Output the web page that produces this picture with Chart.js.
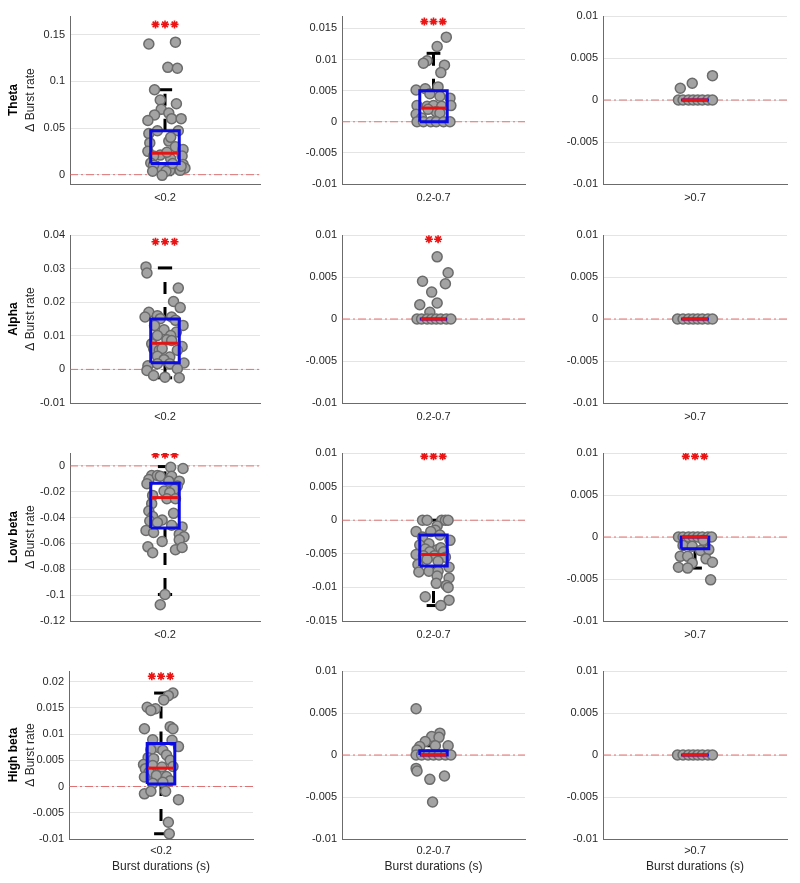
<!DOCTYPE html>
<html><head><meta charset="utf-8">
<script src="https://cdn.jsdelivr.net/npm/chart.js@4.4.1/dist/chart.umd.min.js"></script>
<style>
html,body{margin:0;padding:0;background:#fff;}
#wrap{position:relative;width:800px;height:883px;overflow:hidden;background:#fff;}
#wrap canvas{position:absolute;}
</style></head><body><div id="wrap"></div>
<script>
// ---------- DATA ----------
const bands = ['Theta', 'Alpha', 'Low beta', 'High beta'];
const durations = ['<0.2', '0.2-0.7', '>0.7'];
const yAxisLabel = 'Δ Burst rate';
const xAxisTitle = 'Burst durations (s)';

// y limits and ticks
const thetaShortLim = [-0.01, 0.17];
const thetaShortTicks = [0, 0.05, 0.1, 0.15];
const thetaMidLim = [-0.01, 0.017];
const thetaMidTicks = [-0.01, -0.005, 0, 0.005, 0.01, 0.015];
const smallLim = [-0.01, 0.01];
const smallTicks = [-0.01, -0.005, 0, 0.005, 0.01];
const alphaShortLim = [-0.01, 0.04];
const alphaShortTicks = [-0.01, 0, 0.01, 0.02, 0.03, 0.04];
const lowBetaShortLim = [-0.12, 0.01];
const lowBetaShortTicks = [-0.12, -0.1, -0.08, -0.06, -0.04, -0.02, 0];
const lowBetaMidLim = [-0.015, 0.01];
const lowBetaMidTicks = [-0.015, -0.01, -0.005, 0, 0.005, 0.01];
const highBetaShortLim = [-0.01, 0.022];
const highBetaShortTicks = [-0.01, -0.005, 0, 0.005, 0.01, 0.015, 0.02];

// points: values (y) and jitter (x, category centred at 0)
const thetaShortY = [0.140,0.142,0.115,0.114,0.091,0.080,0.076,0.070,0.066,0.064,0.058,0.060,0.060,0.044,0.047,0.047,0.034,0.036,0.040,0.030,0.027,0.025,0.021,0.020,0.020,0.017,0.0125,0.009,0.011,0.007,0.007,0.0046,0.0046,0.006,0.010,0.0036,-0.0007,0.0036,0.009,0.012,0.024];
const thetaShortX = [-0.17,0.11,0.03,0.13,-0.11,-0.05,0.12,-0.04,0.04,-0.11,-0.18,0.07,0.17,-0.17,-0.08,0.14,-0.16,0.04,0.06,0.11,0.19,-0.18,-0.05,-0.12,0.18,0.06,-0.15,-0.09,0.19,0.21,0.12,0.16,0.05,-0.04,-0.12,0.01,-0.03,-0.13,0.17,0.08,0.02];
const thetaMidY = [0.0136,0.0121,0.0098,0.0094,0.0091,0.0079,0.0056,0.0051,0.0053,0.0045,0.0041,0.0038,0.0026,0.0025,0.0026,0.0025,0.0026,0.0016,0.0014,0.0012,0.0020,0.0006,0,0,0,0,0,0];
const thetaMidX = [0.14,0.04,-0.07,-0.11,0.12,0.08,0.05,-0.19,-0.09,-0.04,0.07,0.18,-0.18,-0.07,0,0.09,0.19,0.03,0.07,-0.19,-0.06,-0.13,-0.18,-0.11,-0.03,0.03,0.11,0.18];
const thetaLongY = [0.0014,0.002,0.0029,0,0,0,0,0,0,0,0];
const thetaLongX = [-0.16,-0.03,0.19,-0.18,-0.13,-0.07,-0.02,0.03,0.08,0.14,0.19];

const alphaShortY = [0.0305,0.0287,0.0242,0.0202,0.0184,0.0170,0.0160,0.0156,0.0151,0.0156,0.0146,0.0131,0.0131,0.0118,0.0111,0.0101,0.0101,0.0088,0.0086,0.0076,0.0068,0.0062,0.0057,0.0062,0.0057,0.0039,0.0037,0.0029,0.0019,0.0011,0.0017,0.0017,-0.0003,0.0002,-0.0018,-0.0025,-0.0023];
const alphaShortX = [-0.2,-0.19,0.14,0.09,0.16,-0.17,-0.08,-0.21,-0.05,0.07,0.11,-0.11,0.19,-0.01,0.12,-0.08,0.06,0.02,0.07,-0.14,0.18,-0.12,-0.06,-0.03,0.13,-0.08,0.05,-0.01,0.2,-0.18,-0.08,0.05,-0.19,0.13,-0.12,0.15,0];
const alphaMidY = [0.0074,0.0055,0.0045,0.0042,0.0032,0.0019,0.0017,0.0008,0,0,0,0,0,0,0,0];
const alphaMidX = [0.04,0.16,-0.12,0.13,-0.02,0.04,-0.15,-0.04,-0.18,-0.13,-0.07,-0.02,0.03,0.08,0.14,0.19];
const alphaLongY = [0,0,0,0,0,0,0,0];
const alphaLongX = [-0.19,-0.13,-0.07,-0.02,0.03,0.08,0.14,0.19];

const lowBetaShortY = [-0.001,-0.002,-0.0074,-0.0105,-0.0074,-0.008,-0.008,-0.0118,-0.0138,-0.0118,-0.0156,-0.018,-0.0195,-0.0208,-0.0228,-0.0254,-0.0254,-0.0292,-0.0349,-0.0367,-0.0392,-0.0418,-0.0426,-0.0438,-0.0459,-0.0472,-0.050,-0.0515,-0.0528,-0.0549,-0.0585,-0.0572,-0.0626,-0.0672,-0.0649,-0.0631,-0.1074,-0.0995];
const lowBetaShortX = [0.06,0.19,-0.14,-0.17,-0.08,-0.05,0.07,0.15,-0.19,0.04,0.13,0.1,-0.01,0.05,-0.13,0.02,0.11,-0.14,-0.17,0.09,-0.13,-0.03,-0.16,-0.08,0.07,0.18,-0.2,-0.12,0.15,0.2,-0.03,0.15,-0.18,-0.13,0.11,0.18,-0.05,0];
const lowBetaMidY = [0,0,0,0,0,-0.00085,-0.0015,-0.0017,-0.0017,-0.0025,-0.0022,-0.003,-0.0035,-0.0037,-0.0043,-0.0044,-0.0041,-0.0047,-0.0047,-0.0051,-0.0053,-0.0053,-0.0055,-0.0058,-0.0066,-0.0061,-0.007,-0.0077,-0.0076,-0.0076,-0.0083,-0.0086,-0.0094,-0.0097,-0.010,-0.0114,-0.0119,-0.0127];
const lowBetaMidX = [-0.12,-0.07,0.09,0.13,0.16,0.04,0.02,-0.19,-0.03,-0.12,0.07,0.18,-0.05,-0.15,-0.09,0.04,0.08,0.11,-0.04,-0.19,-0.11,0.01,0.13,-0.07,-0.17,0.05,0.17,-0.16,-0.05,0.05,0.04,0.17,0.03,0.14,0.16,-0.09,0.17,0.08];
const lowBetaLongY = [0,0,0,0,0,0,0,0,-0.0004,-0.001,-0.0011,-0.0016,-0.0015,-0.0023,-0.0023,-0.0026,-0.0031,-0.003,-0.0036,-0.0037,-0.0051];
const lowBetaLongX = [-0.18,-0.13,-0.07,-0.02,0.03,0.08,0.14,0.18,0.09,-0.13,-0.03,0.06,0.15,-0.16,-0.08,0.12,-0.03,0.19,-0.18,-0.08,0.17];

const highBetaShortY = [0.0178,0.0173,0.0165,0.0151,0.0148,0.0145,0.011,0.0114,0.011,0.0089,0.0088,0.0074,0.0076,0.007,0.0069,0.006,0.0055,0.0053,0.005,0.0042,0.0034,0.004,0.0037,0.0038,0.0027,0.0021,0.0018,0.0019,0.0011,0.0008,0.0006,-0.0014,-0.0009,-0.0009,-0.0025,-0.0068,-0.009];
const highBetaShortX = [0.13,0.08,0.03,-0.15,-0.06,-0.11,-0.18,0.1,0.13,-0.09,0.12,-0.02,0.19,-0.11,0.02,0.06,-0.14,-0.08,0.1,-0.19,-0.17,-0.09,0.01,0.13,-0.13,-0.05,-0.18,0.06,0.1,0.02,-0.09,-0.18,-0.11,0.05,0.19,0.08,0.09];
const highBetaMidY = [0.0055,0.0026,0.0022,0.0021,0.0016,0.001,0.0011,0.0011,0.0006,0,0,0,0,0,0,0,-0.0016,-0.0019,-0.0025,-0.0029,-0.0056];
const highBetaMidX = [-0.19,0.07,-0.02,0.06,-0.09,-0.15,0.16,0.02,-0.18,-0.19,-0.13,-0.06,0,0.06,0.13,0.19,-0.19,-0.18,0.12,-0.04,-0.01];
const highBetaLongY = [0,0,0,0,0,0,0,0];
const highBetaLongX = [-0.19,-0.13,-0.07,-0.02,0.03,0.08,0.14,0.19];

// box statistics: [lower whisker, Q1, median, Q3, upper whisker]
const thetaShortBox = [0, 0.012, 0.023, 0.047, 0.091];
const thetaMidBox = [0, 0, 0.0022, 0.005, 0.011];
const thetaLongBox = [0, 0, 0, 0, 0];
const alphaShortBox = [-0.0025, 0.002, 0.0078, 0.015, 0.0302];
const alphaMidBox = [0, 0, 0, 0, 0];
const alphaLongBox = [0, 0, 0, 0, 0];
const lowBetaShortBox = [-0.0995, -0.048, -0.0245, -0.0135, -0.0005];
const lowBetaMidBox = [-0.0127, -0.0068, -0.0051, -0.0022, 0];
const lowBetaLongBox = [-0.0037, -0.0014, 0, 0, 0];
const highBetaShortBox = [-0.009, 0.0005, 0.0035, 0.0082, 0.0178];
const highBetaMidBox = [0, 0, 0, 0.0005, 0.0011];
const highBetaLongBox = [0, 0, 0, 0, 0];

// significance stars: [y value, number of stars]
const thetaShortSig = [0.161, 3];
const thetaMidSig = [0.0161, 3];
const alphaShortSig = [0.038, 3];
const alphaMidSig = [0.0095, 2];
const lowBetaShortSig = [0.0087, 3];
const lowBetaMidSig = [0.0095, 3];
const lowBetaLongSig = [0.0096, 3];
const highBetaShortSig = [0.021, 3];
const noSig = [0, 0];

// ---------- LAYOUT / STYLE ----------
const FONT = '"Liberation Sans", Arial, Helvetica, sans-serif';
const panels = [
  {r:0,c:0,y:thetaShortY,x:thetaShortX,box:thetaShortBox,sig:thetaShortSig,lim:thetaShortLim,ticks:thetaShortTicks},
  {r:0,c:1,y:thetaMidY,x:thetaMidX,box:thetaMidBox,sig:thetaMidSig,lim:thetaMidLim,ticks:thetaMidTicks},
  {r:0,c:2,y:thetaLongY,x:thetaLongX,box:thetaLongBox,sig:noSig,lim:smallLim,ticks:smallTicks},
  {r:1,c:0,y:alphaShortY,x:alphaShortX,box:alphaShortBox,sig:alphaShortSig,lim:alphaShortLim,ticks:alphaShortTicks},
  {r:1,c:1,y:alphaMidY,x:alphaMidX,box:alphaMidBox,sig:alphaMidSig,lim:smallLim,ticks:smallTicks},
  {r:1,c:2,y:alphaLongY,x:alphaLongX,box:alphaLongBox,sig:noSig,lim:smallLim,ticks:smallTicks},
  {r:2,c:0,y:lowBetaShortY,x:lowBetaShortX,box:lowBetaShortBox,sig:lowBetaShortSig,lim:lowBetaShortLim,ticks:lowBetaShortTicks},
  {r:2,c:1,y:lowBetaMidY,x:lowBetaMidX,box:lowBetaMidBox,sig:lowBetaMidSig,lim:lowBetaMidLim,ticks:lowBetaMidTicks},
  {r:2,c:2,y:lowBetaLongY,x:lowBetaLongX,box:lowBetaLongBox,sig:lowBetaLongSig,lim:smallLim,ticks:smallTicks},
  {r:3,c:0,y:highBetaShortY,x:highBetaShortX,box:highBetaShortBox,sig:highBetaShortSig,lim:highBetaShortLim,ticks:highBetaShortTicks},
  {r:3,c:1,y:highBetaMidY,x:highBetaMidX,box:highBetaMidBox,sig:noSig,lim:smallLim,ticks:smallTicks},
  {r:3,c:2,y:highBetaLongY,x:highBetaLongX,box:highBetaLongBox,sig:noSig,lim:smallLim,ticks:smallTicks}
];
const colGeom = [{L:70,R:260},{L:342,R:525},{L:603,R:787}];
const rowGeom = [{T:16,B:184},{T:235,B:403},{T:453,B:621},{T:671,B:839}];
const BOX_HALF = 0.15, MED_HALF = 0.14, CAP_HALF = 0.075, STAR_GAP = 0.1;

const rowLabelPlugin = {
  id: 'rowLabel',
  afterDraw(chart, args, opts) {
    if (!opts || !opts.text) return;
    const ctx = chart.ctx, ca = chart.chartArea;
    const cy = (ca.top + ca.bottom) / 2;
    ctx.save();
    ctx.translate(opts.x1, cy); ctx.rotate(-Math.PI / 2);
    ctx.textAlign = 'center'; ctx.textBaseline = 'middle';
    ctx.fillStyle = '#000'; ctx.font = 'bold 12px ' + FONT;
    ctx.fillText(opts.text, 0, 0);
    ctx.restore();
    ctx.save();
    ctx.translate(opts.x2, cy); ctx.rotate(-Math.PI / 2);
    ctx.textAlign = 'center'; ctx.textBaseline = 'middle';
    ctx.fillStyle = '#262626'; ctx.font = '12px ' + FONT;
    ctx.fillText(yAxisLabel, 0, 0);
    ctx.restore();
  }
};

function fmt(v) { return String(Math.round(v * 1e6) / 1e6); }

const wrap = document.getElementById('wrap');
panels.forEach(p => {
  let L = colGeom[p.c].L, R = colGeom[p.c].R;
  if (p.r === 3 && p.c === 0) { L = 69; R = 253; }
  const T = rowGeom[p.r].T, B = rowGeom[p.r].B;
  const W = p.c === 0 ? L : 65;
  const xh = p.r === 3 ? 40 : 30;
  const padTop = 12, padRight = 8;
  const cw = (R - L) + W + padRight;
  const chh = (B - T) + padTop + xh;
  const cv = document.createElement('canvas');
  cv.width = cw; cv.height = chh;
  cv.style.width = cw + 'px'; cv.style.height = chh + 'px';
  cv.style.left = (L - W) + 'px'; cv.style.top = (T - padTop) + 'px';
  wrap.appendChild(cv);

  const [lw, q1, med, q3, uw] = p.box;
  const line = (label, data, color, width, dash, order) => ({
    label, data, showLine: true, borderColor: color, borderWidth: width,
    borderDash: dash || [], pointRadius: 0, pointHoverRadius: 0, fill: false,
    borderCapStyle: 'butt', borderJoinStyle: 'miter', order
  });
  const stars = [];
  for (let i = 0; i < p.sig[1]; i++) stars.push({x: (i - (p.sig[1] - 1) / 2) * STAR_GAP, y: p.sig[0]});

  const datasets = [
    line('zero', [{x:-1,y:0},{x:1,y:0}], 'rgba(222,95,95,0.85)', 1, [8,3,2,3], 10),
    line('upper whisker', [{x:0,y:q3},{x:0,y:uw}], '#000', 3, [12,13], 8),
    line('lower whisker', [{x:0,y:q1},{x:0,y:lw}], '#000', 3, [12,13], 8),
    line('upper cap', [{x:-CAP_HALF,y:uw},{x:CAP_HALF,y:uw}], '#000', 3, null, 8),
    line('lower cap', [{x:-CAP_HALF,y:lw},{x:CAP_HALF,y:lw}], '#000', 3, null, 8),
    {label:'points', data: p.y.map((v,i) => ({x: p.x[i] ?? 0, y: v})),
     backgroundColor:'#a3a3a3', borderColor:'#6b6b6b', borderWidth:1.5,
     pointRadius:5, pointHoverRadius:5, order:6},
    line('box', [{x:-BOX_HALF,y:q1},{x:-BOX_HALF,y:q3},{x:BOX_HALF,y:q3},{x:BOX_HALF,y:q1},{x:-BOX_HALF,y:q1}], 'rgb(10,10,225)', 3, null, 4),
    line('median', [{x:-MED_HALF,y:med},{x:MED_HALF,y:med}], 'rgb(232,20,20)', 3, null, 2),
    {label:'stars', data: stars, pointStyle:'star', pointRadius:4, pointHoverRadius:4,
     borderColor:'rgb(235,20,20)', backgroundColor:'rgb(235,20,20)', borderWidth:1.6, order:1}
  ];

  new Chart(cv, {
    type: 'scatter',
    data: {datasets},
    plugins: [rowLabelPlugin],
    options: {
      animation: false, responsive: false, devicePixelRatio: 1, events: [],
      layout: {padding: {left: 0, top: padTop, right: padRight, bottom: 0}},
      plugins: {
        legend: {display: false}, tooltip: {enabled: false},
        rowLabel: p.c === 0 ? {text: bands[p.r], x1: 14, x2: 31} : {}
      },
      scales: {
        x: {
          type: 'linear', min: -1, max: 1,
          afterFit: s => { s.height = xh; },
          afterBuildTicks: s => { s.ticks = [{value: 0}]; },
          ticks: {callback: () => durations[p.c], color: '#262626', font: {size: 11, family: FONT},
                  padding: p.r === 3 ? 5 : 7, maxRotation: 0, autoSkip: false},
          grid: {display: false, drawTicks: false},
          border: {display: true, color: '#6b6b6b', width: 1},
          title: {display: p.r === 3, text: xAxisTitle, color: '#262626',
                  font: {size: 12, family: FONT}, padding: {top: 0, bottom: 5}}
        },
        y: {
          type: 'linear', min: p.lim[0], max: p.lim[1],
          afterFit: s => { s.width = W; },
          afterBuildTicks: s => { s.ticks = p.ticks.map(v => ({value: v})); },
          ticks: {callback: v => fmt(v), color: '#262626', font: {size: 11, family: FONT},
                  padding: 5, autoSkip: false},
          grid: {color: '#e4e4e4', drawTicks: false, lineWidth: 1},
          border: {display: true, color: '#6b6b6b', width: 1}
        }
      }
    }
  });
});
</script></body></html>
